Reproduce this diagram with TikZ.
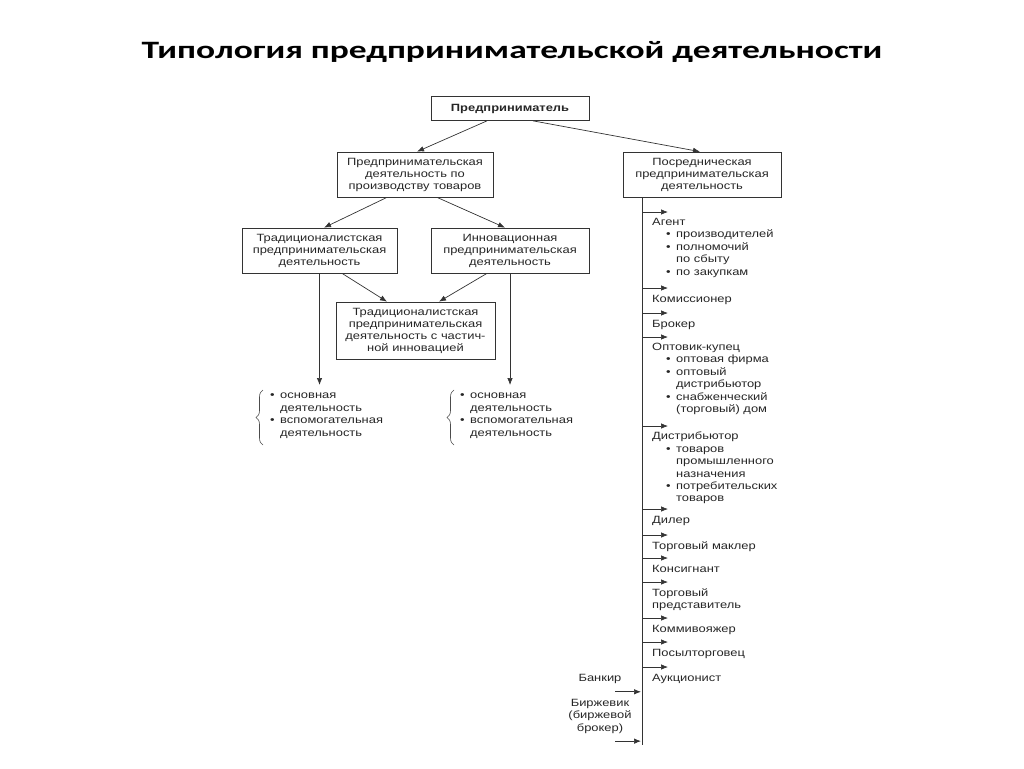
\documentclass[tikz,border=0pt]{standalone}
\usepackage{fontspec}
\setmainfont{Liberation Sans}[FakeStretch=1.23]
\newfontfamily\titlefont{Carlito}[FakeStretch=1.42]
\usepackage{tikz}
\usetikzlibrary{calc}
\usetikzlibrary{arrows.meta}
\usetikzlibrary{decorations.pathreplacing}

\newcommand{\blt}[1]{\makebox[10pt][l]{\textbullet}#1}
\newcommand{\hng}[1]{\hspace*{10pt}#1}

\begin{document}
\begin{tikzpicture}[x=1pt,y=-1pt,
	box/.style={draw=black!80,line width=0.7pt,text=black!85,align=center,inner sep=2pt,font=\fontsize{10.5}{12}\selectfont},
	lbl/.style={anchor=north west,align=left,inner sep=0pt,text=black!85,font=\fontsize{10.5}{12.4}\selectfont,execute at begin node=\strut},
	arr/.style={-{Latex[length=7pt,width=5.5pt]},black!80,line width=0.7pt},
	brc/.style={black!70,line width=0.6pt,decorate,decoration={brace,amplitude=7pt}}]
		\useasboundingbox (0,0) rectangle (1024,768);
		% Title
		\node (title) at (512,52) {\titlefont\bfseries\fontsize{25}{29}\selectfont Типология предпринимательской деятельности};
		% Top of the tree
		\node[box,minimum width=158,minimum height=24] (pr) at (510,108.5) {\bfseries Предприниматель};
		\node[box,minimum width=156,minimum height=45] (proizv) at (415,174.5) {Предпринимательская\\деятельность по\\производству товаров};
		\node[box,minimum width=158,minimum height=45] (posr) at (702,174.5) {Посредническая\\предпринимательская\\деятельность};
		\draw[arr] ([xshift=-23]pr.south) -- ([xshift=2]proizv.north);
		\draw[arr] ([xshift=23]pr.south) -- ([xshift=-2]posr.north);
		% Production branch
		\node[box,minimum width=155,minimum height=45] (trad) at (319.5,250.5) {Традиционалистская\\предпринимательская\\деятельность};
		\node[box,minimum width=158,minimum height=45] (innov) at (510,250.5) {Инновационная\\предпринимательская\\деятельность};
		\node[box,minimum width=159,minimum height=57] (chast) at (415.5,330.5) {Традиционалистская\\предпринимательская\\деятельность с частич-\\ной инновацией};
		\draw[arr] ([xshift=-28]proizv.south) -- ([xshift=4.5]trad.north);
		\draw[arr] ([xshift=22]proizv.south) -- ([xshift=-5]innov.north);
		\draw[arr] ([xshift=22.5]trad.south) -- ([xshift=-28.5]chast.north);
		\draw[arr] ([xshift=-23]innov.south) -- ([xshift=23.5]chast.north);
		% Lists under the braces
		\node[lbl] (osn1) at (270,393) {\blt{основная}\\\hng{деятельность}\\\blt{вспомогательная}\\\hng{деятельность}};
		\node[lbl] (osn2) at (460,393) {\blt{основная}\\\hng{деятельность}\\\blt{вспомогательная}\\\hng{деятельность}};
		\draw[brc] (263,445) -- (263,390);
		\draw[brc] (454,445) -- (454,390);
		\draw[arr] (trad.south) -- ([yshift=8]trad.south |- osn1.north);
		\draw[arr] (innov.south) -- ([yshift=8]innov.south |- osn2.north);
		% Intermediary branch
		\coordinate (sp) at ([xshift=-60]posr.south);
		\coordinate (spend) at (642,745);
		\draw[black!80,line width=0.7pt] (sp) -- (spend);
		\node[lbl] (agent) at (652,218) {Агент\\\hspace*{14pt}\blt{производителей}\\\hspace*{14pt}\blt{полномочий}\\\hspace*{14pt}\hng{по сбыту}\\\hspace*{14pt}\blt{по закупкам}};
		\node[lbl] (komis) at (652,294) {Комиссионер};
		\node[lbl] (broker) at (652,319) {Брокер};
		\node[lbl] (optovik) at (652,343) {Оптовик-купец\\\hspace*{14pt}\blt{оптовая фирма}\\\hspace*{14pt}\blt{оптовый}\\\hspace*{14pt}\hng{дистрибьютор}\\\hspace*{14pt}\blt{снабженческий}\\\hspace*{14pt}\hng{(торговый) дом}};
		\node[lbl] (distr) at (652,432) {Дистрибьютор\\\hspace*{14pt}\blt{товаров}\\\hspace*{14pt}\hng{промышленного}\\\hspace*{14pt}\hng{назначения}\\\hspace*{14pt}\blt{потребительских}\\\hspace*{14pt}\hng{товаров}};
		\node[lbl] (diler) at (652,515) {Дилер};
		\node[lbl] (makler) at (652,541) {Торговый маклер};
		\node[lbl] (konsig) at (652,564) {Консигнант};
		\node[lbl] (predst) at (652,588) {Торговый\\представитель};
		\node[lbl] (kommi) at (652,624) {Коммивояжер};
		\node[lbl] (posyl) at (652,648) {Посылторговец};
		\node[lbl] (aukc) at (652,673) {Аукционист};
		\foreach \n in {agent,komis,broker,optovik,distr,diler,makler,konsig,predst,kommi,posyl,aukc}
			\draw[arr] ([xshift=-10,yshift=6]\n.north west) -- ([xshift=16,yshift=6]\n.north west);
		% Coming in from the left
		\node[lbl,anchor=north,align=center] (bank) at (600,673) {Банкир};
		\node[lbl,anchor=north,align=center] (birzh) at (600,699) {Биржевик\\(биржевой\\брокер)};
		\draw[arr] ([xshift=15,yshift=-6]bank.south) -- ([xshift=41,yshift=-6]bank.south);
		\draw[arr] ([xshift=15,yshift=-6]birzh.south) -- ([xshift=41,yshift=-6]birzh.south);
	\end{tikzpicture}
\end{document}
